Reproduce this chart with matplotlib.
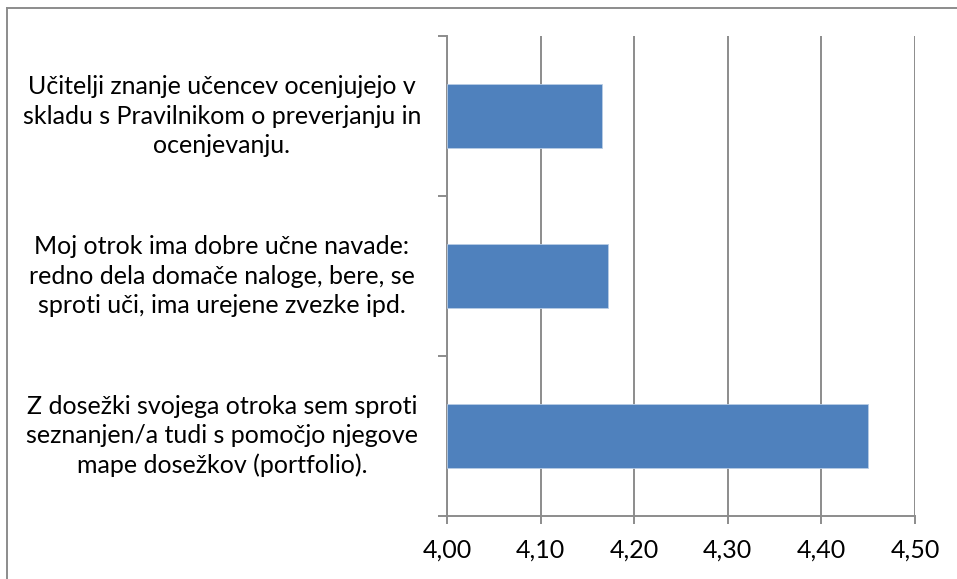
import matplotlib.pyplot as plt
from matplotlib.lines import Line2D
from matplotlib.ticker import FuncFormatter, FixedLocator

# Data (top to bottom)
labels = [
    "Učitelji znanje učencev ocenjujejo v\nskladu s Pravilnikom o preverjanju in\nocenjevanju.",
    "Moj otrok ima dobre učne navade:\nredno dela domače naloge, bere, se\nsproti uči, ima urejene zvezke ipd.",
    "Z dosežki svojega otroka sem sproti\nseznanjen/a tudi s pomočjo njegove\nmape dosežkov (portfolio).",
]
values = [4.166, 4.172, 4.450]
xticks = [4.00, 4.10, 4.20, 4.30, 4.40, 4.50]

W, H = 957, 579
grey = '#8c8c8c'
plt.rcParams['font.family'] = ['Lato', 'DejaVu Sans']

fig = plt.figure(figsize=(W / 100, H / 100), dpi=100)
ax = fig.add_axes([447 / W, (H - 516) / H, (915 - 447) / W, (516 - 36) / H])

ypos = list(range(len(values)))
ax.barh(ypos, [v - 4.0 for v in values], left=4.0, height=0.4,
        color='#4f81bd', edgecolor='#b9cde5', linewidth=0.6, zorder=3)

ax.set_xlim(4.0, 4.5)
ax.set_ylim(len(values) - 0.5, -0.5)
ax.xaxis.set_major_locator(FixedLocator(xticks))
ax.xaxis.set_major_formatter(FuncFormatter(lambda v, p: f"{v:.2f}".replace('.', ',')))
ax.grid(axis='x', color=grey, linewidth=1.4, zorder=0)

# category boundaries get the tick marks, labels are drawn as text
ax.set_yticks([i - 0.5 for i in range(len(values) + 1)])
ax.set_yticklabels([])
ax.tick_params(axis='y', length=6.5, width=1.4, color=grey, direction='out')
ax.tick_params(axis='x', length=6, width=1.4, color=grey, direction='out',
               labelsize=18, pad=10, labelcolor='black')

for s in ['top', 'right']:
    ax.spines[s].set_visible(False)
for s in ['left', 'bottom']:
    ax.spines[s].set_color(grey)
    ax.spines[s].set_linewidth(1.4)

tr = ax.get_yaxis_transform()
for i, lab in enumerate(labels):
    ax.text(-225 / 468, i, lab, transform=tr, ha='center', va='center',
            multialignment='center', fontsize=18, linespacing=1.32)

# outer chart frame (only top and left edges show)
fig.add_artist(Line2D([7.5 / W, 1], [1 - 7.5 / H] * 2, color=grey, lw=1.4,
                      transform=fig.transFigure))
fig.add_artist(Line2D([7.5 / W] * 2, [0, 1 - 7.5 / H], color=grey, lw=1.4,
                      transform=fig.transFigure))

fig.savefig('out.png', dpi=100)
